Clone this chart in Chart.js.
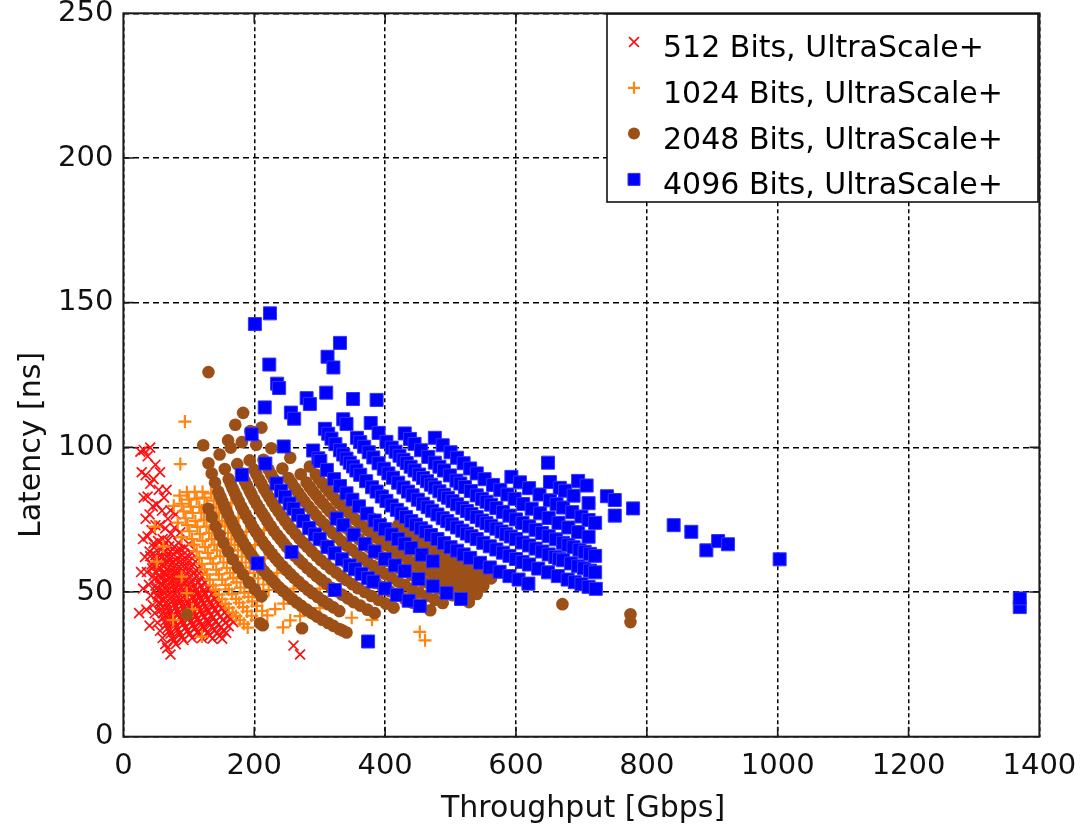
<!DOCTYPE html>
<html>
<head>
<meta charset="utf-8">
<script src="https://cdn.jsdelivr.net/npm/chart.js@4.4.1/dist/chart.umd.min.js"></script>
<style>
  html, body { margin: 0; padding: 0; background: #fff; }
  #wrap { width: 1083px; height: 828px; }
</style>
</head>
<body>
<div id="wrap"><canvas id="c" width="1083" height="828"></canvas></div>
<script>
// Series names, in legend order
const seriesLabels = [
  '512 Bits, UltraScale+',
  '1024 Bits, UltraScale+',
  '2048 Bits, UltraScale+',
  '4096 Bits, UltraScale+'
];
const xTicks = [0, 200, 400, 600, 800, 1000, 1200, 1400];
const yTicks = [0, 50, 100, 150, 200, 250];
const xTitle = 'Throughput [Gbps]';
const yTitle = 'Latency [ns]';

// [throughput Gbps, latency ns]
const bits512 = [
  [24,42.7],[27,56.9],[30,51.2],[35,43.9],[40,38.4],
  [30,68.3],[33,62.1],[36,56.9],[39,52.5],[42,48.8],[45,45.5],[48,42.7],[52,39.4],[56,36.6],[60,34.1],[64,32.0],[67,30.6],[72,28.4],
  [26,98.5],[28,91.4],[31,82.6],[34,75.3],[37,69.2],[40,64.0],[41,62.4],[43,59.5],[44,58.2],[46,55.7],[47,54.5],[49,52.2],[50,51.2],[52,49.2],[53,48.3],[55,46.5],[56,45.7],[58,44.1],[60,42.7],[62,41.3],[64,40.0],[66,38.8],[68,37.6],[70,36.6],[72,35.6],[75,34.1],[77,33.2],[80,32.0],
  [31,99.1],[34,90.4],[37,83.0],[40,76.8],[43,71.4],[46,66.8],[47,65.4],[49,62.7],[50,61.4],[52,59.1],[53,58.0],[55,55.9],[56,54.9],[58,53.0],[59,52.1],[61,50.4],[62,49.5],[64,48.0],[66,46.5],[68,45.2],[70,43.9],[72,42.7],[74,41.5],[76,40.4],[78,39.4],[81,37.9],[83,37.0],[86,35.7],[89,34.5],[92,33.4],
  [37,96.9],[41,87.4],[45,79.6],[49,73.1],[53,67.6],[55,65.2],[57,62.9],[58,61.8],[60,59.7],[61,58.8],[63,56.9],[64,56.0],[66,54.3],[68,52.7],[70,51.2],[72,49.8],[74,48.4],[76,47.2],[78,45.9],[80,44.8],[82,43.7],[84,42.7],[87,41.2],[89,40.3],[92,39.0],[95,37.7],[98,36.6],[101,35.5],[105,34.1],
  [41,99.9],[46,89.0],[51,80.3],[56,73.1],[60,68.3],[62,66.1],[64,64.0],[66,62.1],[68,60.2],[70,58.5],[72,56.9],[74,55.4],[76,53.9],[78,52.5],[80,51.2],[82,50.0],[85,48.2],[87,47.1],[90,45.5],[92,44.5],[95,43.1],[97,42.2],[100,41.0],[103,39.8],[106,38.6],[109,37.6],[113,36.2],[116,35.3],[120,34.1],
  [49,94.0],[54,85.3],[59,78.1],[64,72.0],[68,67.8],[70,65.8],[72,64.0],[74,62.3],[76,60.6],[78,59.1],[80,57.6],[82,56.2],[84,54.9],[86,53.6],[89,51.8],[91,50.6],[94,49.0],[96,48.0],[99,46.5],[101,45.6],[104,44.3],[107,43.1],[110,41.9],[113,40.8],[116,39.7],[119,38.7],[122,37.8],[125,36.9],[129,35.7],[132,34.9],[136,33.9],
  [56,91.4],[62,82.6],[68,75.3],[73,70.1],[78,65.6],[80,64.0],[83,61.7],[85,60.2],[88,58.2],[90,56.9],[93,55.1],[95,53.9],[98,52.2],[100,51.2],[103,49.7],[106,48.3],[109,47.0],[112,45.7],[115,44.5],[118,43.4],[121,42.3],[124,41.3],[128,40.0],[131,39.1],[135,37.9],[139,36.8],[143,35.8],[147,34.8],[151,33.9],
  [66,85.3],[72,78.2],[78,72.2],[84,67.0],[87,64.7],[90,62.6],[93,60.6],[96,58.7],[99,56.9],[102,55.2],[105,53.6],[108,52.1],[111,50.7],[114,49.4],[117,48.1],[120,46.9],[123,45.8],[127,44.3],[130,43.3],[134,42.0],[137,41.1],[141,39.9],[145,38.8],[149,37.8],[153,36.8],[157,35.9],
  [80,76.8],[87,70.6],[94,65.4],[98,62.7],[101,60.8],[104,59.1],[108,56.9],[111,55.4],[115,53.4],[118,52.1],[122,50.4],[125,49.2],[129,47.6],[132,46.5],[136,45.2],[140,43.9],[144,42.7],[148,41.5],[152,40.4],[156,39.4],[161,38.2],
  [100,66.6],[105,63.4],[110,60.5],[115,57.9],[120,55.5],[125,53.2],[130,51.2],[135,49.3],[140,47.5],[145,45.9],[150,44.4],[155,42.9],[160,41.6],[164,40.6],[168,39.6],
  [260,31.5],[270,28.4]
];

const bits1024 = [
  [94,108.9],[87,94.2],[48,72.6],[51,60.5],[61,65.7],[76,40.3],[89,55.3],[97,49.6],[105,44.0],[120,34.6],
  [77,79.8],[83,74.0],[89,69.0],
  [86,83.3],[89,80.5],[92,77.9],[95,75.5],[98,73.1],[101,71.0],[105,68.3],[108,66.4],[112,64.0],[116,61.8],[120,59.7],[124,57.8],[128,56.0],[132,54.3],[137,52.3],[141,50.8],[146,49.1],[151,47.5],[156,45.9],[161,44.5],[167,42.9],[172,41.7],[178,40.3],[184,39.0],[190,37.7],
  [97,84.5],[100,81.9],[103,79.5],[106,77.3],[110,74.5],[113,72.5],[117,70.0],[121,67.7],[125,65.5],[129,63.5],[133,61.6],[137,59.8],[142,57.7],[146,56.1],[151,54.3],[156,52.5],[161,50.9],[166,49.3],[172,47.6],[177,46.3],[183,44.8],[189,43.3],[196,41.8],[203,40.4],[210,39.0],
  [109,84.6],[112,82.3],[116,79.4],[119,77.4],[123,74.9],[127,72.6],[131,70.4],[135,68.3],[139,66.3],[143,64.4],[148,62.3],[153,60.2],[158,58.3],[163,56.5],[168,54.9],[173,53.3],[179,51.5],[185,49.8],[191,48.3],[197,46.8],[204,45.2],[212,43.5],[220,41.9],[244,37.8],
  [121,84.6],[124,82.6],[128,80.0],[132,77.6],[136,75.3],[140,73.1],[145,70.6],[149,68.7],[154,66.5],[159,64.4],[164,62.4],[169,60.6],[175,58.5],[180,56.9],[186,55.1],[192,53.3],[198,51.7],[205,50.0],[212,48.3],[232,44.1],[255,40.2],
  [134,84.1],[138,81.6],[142,79.3],[146,77.2],[151,74.6],[155,72.7],[160,70.4],[165,68.3],[170,66.3],[175,64.4],[181,62.2],[187,60.2],[193,58.4],[199,56.6],[206,54.7],[214,52.6],[222,50.7],[245,46.0],[270,41.7],
  [148,83.0],[152,80.8],[157,78.3],[162,75.9],[167,73.6],[172,71.4],[178,69.0],[184,66.8],[190,64.7],[196,62.7],[203,60.5],[210,58.5],[218,56.4],[240,51.2],[265,46.4],[288,42.7],
  [165,80.7],[176,75.6],[188,70.8],[201,66.2],[216,61.6],[235,56.6],[260,51.2],[300,44.4],
  [185,77.5],[200,71.7],[218,65.8],[270,53.1],[310,46.2],[349,41.1],
  [215,71.4],[300,51.2],[380,40.4],[461,33.3],
  [330,49.6],[453,36.2]
];

const bits2048 = [
  [97,42.2],[209,39.2],[213,38.5],[273,37.5],
  [130,78.8],[135,75.9],[141,72.6],[147,69.7],[153,66.9],[160,64.0],[167,61.3],[175,58.5],[183,56.0],[192,53.3],[201,50.9],[211,48.5],
  [122,100.7],[130,94.5],[135,91.0],
  [140,87.8],[145,84.7],[148,83.0],[151,81.4],[154,79.8],[157,78.3],[160,76.8],[164,74.9],[167,73.6],[171,71.9],[175,70.2],[179,68.6],[183,67.1],[187,65.7],[191,64.3],[196,62.7],[200,61.4],[205,59.9],[210,58.5],[215,57.2],[220,55.9],[226,54.4],[232,53.0],[238,51.6],[244,50.4],[251,49.0],[258,47.6],[265,46.4],[272,45.2],[280,43.9],[288,42.7],[296,41.5],[304,40.4],[313,39.3],[321,38.3],[330,37.2],[335,36.7],[341,36.0],
  [147,97.5],[155,92.5],
  [161,89.0],[164,87.4],[167,85.8],[170,84.3],[173,82.9],[176,81.5],[180,79.6],[183,78.3],[187,76.7],[191,75.1],[195,73.5],[199,72.0],[203,70.6],[207,69.3],[212,67.6],[217,66.1],[222,64.6],[227,63.2],[232,61.8],[237,60.5],[243,59.0],[249,57.6],[255,56.2],[261,54.9],[268,53.5],[275,52.1],[282,50.8],[289,49.6],[297,48.3],[305,47.0],[313,45.8],[321,44.7],[330,43.4],
  [130,126.0],[160,102.4],[164,99.9],[174,94.2],[180,91.0],
  [183,89.5],[186,88.1],[189,86.7],[193,84.9],[196,83.6],[200,81.9],[204,80.3],[208,78.8],[212,77.3],[216,75.9],[220,74.5],[225,72.8],[230,71.2],[235,69.7],[240,68.3],[245,66.9],[250,65.5],[256,64.0],[262,62.5],[268,61.1],[274,59.8],[281,58.3],[288,56.9],[295,55.5],[302,54.3],[310,52.9],[318,51.5],[326,50.3],[334,49.1],[343,47.8],[352,46.5],[362,45.3],[373,43.9],[384,42.7],
  [171,107.8],[181,101.8],[193,95.5],
  [200,92.2],[203,90.8],[207,89.0],[211,87.4],[215,85.7],[219,84.2],[223,82.7],[227,81.2],[232,79.4],[237,77.8],[242,76.2],[247,74.6],[252,73.1],[257,71.7],[263,70.1],[269,68.5],[275,67.0],[281,65.6],[288,64.0],[295,62.5],[302,61.0],[309,59.7],[317,58.1],[325,56.7],[333,55.4],[341,54.1],[350,52.7],[359,51.3],[369,50.0],[379,48.6],[390,47.3],[401,46.0],[413,44.6],
  [183,111.9],[194,105.6],[203,100.9],[214,95.7],
  [222,92.3],[226,90.6],[230,89.0],[234,87.5],[239,85.7],[244,83.9],[249,82.2],[254,80.6],[259,79.1],[264,77.6],[270,75.9],[276,74.2],[282,72.6],[288,71.1],[295,69.4],[302,67.8],[309,66.3],[316,64.8],[324,63.2],[332,61.7],[340,60.2],[348,58.9],[357,57.4],[366,56.0],[376,54.5],[386,53.1],[396,51.7],[407,50.3],[418,49.0],[430,47.6],[442,46.3],[455,45.0],[469,43.7],
  [211,106.8],[226,99.7],[243,92.7],
  [252,89.4],[257,87.7],[262,86.0],[267,84.4],[272,82.8],[277,81.3],[283,79.6],[289,78.0],[295,76.4],[301,74.8],[307,73.4],[313,72.0],[320,70.4],[327,68.9],[334,67.4],[341,66.1],[349,64.6],[357,63.1],[365,61.7],[373,60.4],[382,59.0],[391,57.6],[400,56.3],[410,54.9],[420,53.6],[430,52.4],[441,51.1],[452,49.8],[464,48.6],[476,47.3],[488,46.2],
  [255,96.4],[271,90.7],
  [280,87.8],[285,86.2],[290,84.7],[295,83.3],[300,81.9],[305,80.6],[311,79.0],[316,77.8],[322,76.3],[328,74.9],[334,73.6],[340,72.3],[347,70.8],[353,69.6],[360,68.3],[367,67.0],[374,65.7],[381,64.5],[389,63.2],[397,61.9],[405,60.7],[413,59.5],[422,58.2],[431,57.0],[440,55.9],[449,54.7],[459,53.5],[469,52.4],[480,51.2],[491,50.1],[503,48.9],[515,47.7],[528,46.5],
  [285,93.4],
  [294,90.6],[299,89.0],[304,87.6],[309,86.2],[314,84.8],[319,83.5],[325,81.9],[330,80.7],[336,79.2],[342,77.8],[348,76.5],[354,75.2],[360,74.0],[366,72.7],[373,71.4],[380,70.1],[387,68.8],[394,67.6],[402,66.2],[410,64.9],[418,63.7],[426,62.5],[435,61.2],[444,60.0],[453,58.8],[462,57.6],[472,56.4],[482,55.2],[492,54.1],[503,52.9],[514,51.8],[527,50.5],[540,49.3],
  [380,75.5],[386,74.3],[393,73.0],[400,71.7],[407,70.4],[414,69.3],[421,68.1],[428,67.0],[436,65.8],[444,64.6],[452,63.4],[460,62.3],[469,61.1],[478,60.0],[487,58.9],[496,57.8],[506,56.7],[516,55.6],[527,54.4],[538,53.3],[550,52.1],
  [420,73.1],[426,72.1],[433,70.9],[440,69.8],[447,68.7],[454,67.7],[461,66.6],[468,65.6],[476,64.5],[484,63.5],[492,62.4],[500,61.4],[509,60.4],[518,59.3],[527,58.3],[536,57.3],[545,56.4],[553,55.6],[562,54.7],
  [671,45.8],[775,39.6],[775,42.3]
];

const bits4096 = [
  [205,59.9],[374,32.9],
  [181,90.5],[257,63.8],[323,50.7],
  [196,104.5],[217,94.4],[234,87.5],[241,85.0],[247,82.9],[254,80.6],[260,78.8],[267,76.7],[275,74.5],[284,72.1],[293,69.9],[300,68.3],[312,65.6],[323,63.4],[334,61.3],[346,59.2],[354,57.9],[364,56.3],[374,54.8],[382,53.6],[400,51.2],[418,49.0],[436,47.0],[453,45.2],
  [216,113.8],[245,100.3],[326,75.4],[336,73.1],[352,69.8],[369,66.6],[384,64.0],[400,61.4],[415,59.2],[430,57.2],[451,54.5],[473,52.0],[494,49.7],[516,47.6],
  [201,142.6],[223,128.6],[235,122.0],[238,120.5],[256,112.0],[261,109.9],[290,98.9],[298,96.2],[301,95.3],[311,92.2],[322,89.0],[331,86.6],[341,84.1],[350,81.9],[360,79.6],[372,77.1],[384,74.7],[392,73.1],[400,71.7],[410,69.9],[420,68.3],[430,66.7],[440,65.2],[456,62.9],[473,60.6],
  [224,146.3],[280,117.0],[285,115.0],[308,106.4],[313,104.7],[318,103.0],[324,101.1],[331,99.0],[336,97.5],[341,96.1],[346,94.7],[351,93.4],[356,92.0],[362,90.5],[371,88.3],[380,86.2],[387,84.7],[395,83.0],[402,81.5],[410,79.9],[418,78.4],[425,77.1],[432,75.9],[440,74.5],[447,73.3],[455,72.0],[462,70.9],[470,69.7],[480,68.3],[490,66.9],[500,65.5],[510,64.3],[520,63.0],[530,61.8],[545,60.1],[560,58.5],[575,57.0],[590,55.5],[604,54.3],[619,52.9],
  [310,118.9],[336,109.7],[341,108.1],[357,103.3],[362,101.8],[368,100.2],[375,98.3],[382,96.5],[390,94.5],[398,92.6],[405,91.0],[412,89.5],[420,87.8],[428,86.1],[435,84.7],[442,83.4],[450,81.9],[458,80.5],[465,79.3],[472,78.1],[480,76.8],[488,75.5],[495,74.5],[502,73.4],[510,72.3],[518,71.2],[525,70.2],[532,69.3],[540,68.3],[550,67.0],[560,65.8],[570,64.7],[580,63.6],[590,62.5],[600,61.4],[610,60.4],[620,59.5],[634,58.1],[649,56.8],[664,55.5],[679,54.3],[690,53.4],[700,52.7],[711,51.8],[722,51.1],
  [312,131.3],[321,127.6],[351,116.7],[378,108.4],[390,105.0],[402,101.9],[410,99.9],[416,98.5],[422,97.1],[428,95.7],[433,94.6],[439,93.3],[445,92.0],[452,90.6],[458,89.4],[464,88.3],[470,87.1],[476,86.1],[483,84.8],[490,83.6],[496,82.6],[503,81.4],[510,80.3],[518,79.1],[525,78.0],[532,77.0],[540,75.9],[548,74.7],[555,73.8],[562,72.9],[570,71.9],[578,70.9],[585,70.0],[592,69.2],[600,68.3],[610,67.1],[620,66.1],[630,65.0],[640,64.0],[650,63.0],[660,62.1],[666,61.5],[672,61.0],[684,59.9],[695,58.9],[704,58.2],[713,57.4],[721,56.8],
  [331,136.1],[387,116.4],[430,104.8],[438,102.9],[445,101.2],[455,99.0],[466,96.7],[476,94.7],[483,93.3],[490,92.0],[499,90.3],[509,88.5],[515,87.5],[522,86.3],[531,84.9],[540,83.4],[548,82.2],[555,81.2],[562,80.2],[570,79.0],[580,77.7],[590,76.4],[600,75.1],[610,73.9],[620,72.7],[630,71.5],[640,70.4],[650,69.3],[661,68.2],[672,67.0],[680,66.3],[688,65.5],[697,64.6],[705,63.9],[713,63.2],[721,62.5],
  [476,103.3],[488,100.7],[500,98.3],[510,96.4],[520,94.5],[530,92.7],[540,91.0],[552,89.0],[565,87.0],[576,85.3],[587,83.7],[598,82.2],[611,80.4],[624,78.8],[637,77.2],[650,75.6],[665,73.9],[680,72.3],[695,70.7],[711,69.1],
  [593,89.8],[606,87.9],[620,85.9],[636,83.7],[652,81.7],[662,80.4],[672,79.2],[686,77.6],[700,76.1],[711,74.9],[721,73.9],
  [652,88.0],[667,86.0],[675,85.0],[688,83.3],[711,80.7],[751,76.4],[891,64.4],
  [649,94.7],[695,88.4],[708,86.8],[739,83.1],[751,81.8],[779,78.9],[841,73.1],[868,70.8],[909,67.6],[924,66.5],[1003,61.3],[1370,44.8],
  [1370,47.8]
];

const FONT = 'DejaVu Sans';
const toPoints = arr => arr.map(([x, y]) => ({ x, y }));

// Plot frame with inward tick marks on all four sides
const framePlugin = {
  id: 'frame',
  afterDatasetsDraw(chart) {
    const { ctx, chartArea: a, scales: { x, y } } = chart;
    ctx.save();
    ctx.strokeStyle = '#1a1a1a';
    ctx.lineWidth = 1.6;
    ctx.beginPath();
    xTicks.slice(1, -1).forEach(v => {
      const px = x.getPixelForValue(v);
      ctx.moveTo(px, a.bottom); ctx.lineTo(px, a.bottom - 10);
      ctx.moveTo(px, a.top); ctx.lineTo(px, a.top + 10);
    });
    yTicks.slice(1, -1).forEach(v => {
      const py = y.getPixelForValue(v);
      ctx.moveTo(a.left, py); ctx.lineTo(a.left + 10, py);
      ctx.moveTo(a.right, py); ctx.lineTo(a.right - 10, py);
    });
    ctx.stroke();
    ctx.lineWidth = 2;
    ctx.strokeRect(a.left, a.top, a.right - a.left, a.bottom - a.top);
    ctx.restore();
  }
};

// Axis titles
const titlePlugin = {
  id: 'axisTitles',
  afterDraw(chart) {
    const { ctx } = chart;
    ctx.save();
    ctx.fillStyle = '#111';
    ctx.font = '30px "' + FONT + '"';
    ctx.textAlign = 'center';
    ctx.textBaseline = 'alphabetic';
    ctx.fillText(xTitle, 583, 817);
    ctx.translate(40, 445);
    ctx.rotate(-Math.PI / 2);
    ctx.fillText(yTitle, 0, 0);
    ctx.restore();
  }
};

// Legend marker in the style of its dataset
function drawMarker(ctx, ds, cx, cy, r) {
  ctx.save();
  ctx.strokeStyle = ds.borderColor;
  ctx.fillStyle = ds.backgroundColor;
  ctx.lineWidth = ds.borderWidth;
  ctx.beginPath();
  if (ds.pointStyle === 'crossRot') {
    const d = r * Math.SQRT1_2;
    ctx.moveTo(cx - d, cy - d); ctx.lineTo(cx + d, cy + d);
    ctx.moveTo(cx + d, cy - d); ctx.lineTo(cx - d, cy + d);
    ctx.stroke();
  } else if (ds.pointStyle === 'cross') {
    ctx.moveTo(cx - r, cy); ctx.lineTo(cx + r, cy);
    ctx.moveTo(cx, cy - r); ctx.lineTo(cx, cy + r);
    ctx.stroke();
  } else if (ds.pointStyle === 'circle') {
    ctx.arc(cx, cy, r, 0, Math.PI * 2);
    ctx.fill();
  } else {
    const s = r * Math.SQRT1_2;
    ctx.rect(cx - s, cy - s, 2 * s, 2 * s);
    ctx.fill();
    if (ds.borderWidth) ctx.stroke();
  }
  ctx.restore();
}

// Boxed legend in the upper right of the plot
const legendPlugin = {
  id: 'boxedLegend',
  afterDraw(chart) {
    const { ctx } = chart;
    const bx = 607, by = 14, bw = 431, bh = 188;
    ctx.save();
    ctx.fillStyle = '#fff';
    ctx.fillRect(bx, by, bw, bh);
    ctx.strokeStyle = '#111';
    ctx.lineWidth = 1.6;
    ctx.strokeRect(bx, by, bw, bh);
    const sizes = [7, 6, 6, 8.5];
    chart.data.datasets.forEach((ds, i) => {
      const cy = 46 + i * 45.8;
      drawMarker(ctx, ds, 634, cy - 4, sizes[i]);
      ctx.fillStyle = '#000';
      ctx.font = '30px "' + FONT + '"';
      ctx.textAlign = 'left';
      ctx.textBaseline = 'alphabetic';
      ctx.fillText(ds.label, 663, cy + 10.9);
    });
    ctx.restore();
  }
};

new Chart(document.getElementById('c'), {
  type: 'scatter',
  data: {
    datasets: [
      { label: seriesLabels[0], data: toPoints(bits512), pointStyle: 'crossRot', pointRadius: 7,
        borderColor: '#ff0f0f', backgroundColor: '#ff0f0f', borderWidth: 1.7, order: 4 },
      { label: seriesLabels[1], data: toPoints(bits1024), pointStyle: 'cross', pointRadius: 6.5,
        borderColor: '#ff8410', backgroundColor: '#ff8410', borderWidth: 2.2, order: 3 },
      { label: seriesLabels[2], data: toPoints(bits2048), pointStyle: 'circle', pointRadius: 6.3,
        borderColor: '#9c5018', backgroundColor: '#9c5018', borderWidth: 0, order: 2 },
      { label: seriesLabels[3], data: toPoints(bits4096), pointStyle: 'rect', pointRadius: 9.2,
        borderColor: '#3434ff', backgroundColor: '#0000ff', borderWidth: 1, order: 1 }
    ]
  },
  options: {
    responsive: false,
    animation: false,
    devicePixelRatio: 1,
    events: [],
    layout: { padding: { left: 0, top: 13.3, right: 43.6, bottom: 0 } },
    plugins: { legend: { display: false }, tooltip: { enabled: false }, title: { display: false } },
    scales: {
      x: {
        type: 'linear', min: 0, max: 1400,
        afterBuildTicks: s => { s.ticks = xTicks.map(v => ({ value: v })); },
        afterFit: s => { s.height = 91.3; s.paddingLeft = 0; s.paddingRight = 0; },
        ticks: { font: { family: FONT, size: 29 }, color: '#111', padding: 12, maxRotation: 0,
                 autoSkip: false, callback: v => String(v) },
        grid: { color: '#000', lineWidth: 1.5, drawTicks: false },
        border: { display: false, dash: [4, 3] }
      },
      y: {
        type: 'linear', min: 0, max: 250,
        afterBuildTicks: s => { s.ticks = yTicks.map(v => ({ value: v })); },
        afterFit: s => { s.width = 123.4; s.paddingTop = 0; s.paddingBottom = 0; },
        ticks: { font: { family: FONT, size: 29 }, color: '#111', padding: 10,
                 autoSkip: false, callback: v => String(v) },
        grid: { color: '#000', lineWidth: 1.5, drawTicks: false },
        border: { display: false, dash: [6, 4] }
      }
    }
  },
  plugins: [framePlugin, titlePlugin, legendPlugin]
});
</script>
</body>
</html>
